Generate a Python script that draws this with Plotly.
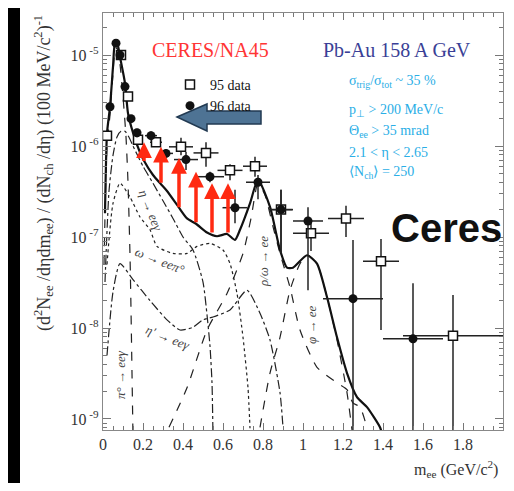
import math
import plotly.graph_objects as go

# ---------------- data ----------------
# CERES 95 data (open squares)
d95_m = [0.02, 0.09, 0.125, 0.175, 0.265, 0.39, 0.515, 0.635, 0.76, 0.89, 1.04, 1.215, 1.39, 1.75]
d95_v = [1.3e-6, 1.0e-5, 3.5e-6, 1.17e-6, 1.1e-6, 9.8e-7, 8.4e-7, 5.4e-7, 6.0e-7, 2.0e-7, 1.1e-7, 1.6e-7, 5.4e-8, 8.2e-9]
d95_ex = [0.01, 0.01, 0.01, 0.015, 0.03, 0.06, 0.0625, 0.0625, 0.06, 0.06, 0.09, 0.09, 0.09, 0.25]
d95_hi = [1.4e-6, 1.1e-5, 3.8e-6, 1.25e-6, 1.2e-6, 1.23e-6, 1.1e-6, 6.3e-7, 7.6e-7, 3.3e-7, 1.5e-7, 2.2e-7, 9.5e-8, 2.3e-8]
d95_lo = [1.2e-6, 9.0e-6, 3.2e-6, 1.08e-6, 1.0e-6, 7.9e-7, 5.9e-7, 4.2e-7, 4.6e-7, 6.6e-8, 7.0e-8, 1.0e-7, 9.5e-9, 1e-10]

# CERES 96 data (filled circles)
d96_m = [0.035, 0.065, 0.085, 0.11, 0.14, 0.17, 0.24, 0.315, 0.415, 0.535, 0.66, 0.775, 0.89, 1.025, 1.25, 1.55]
d96_v = [2.7e-6, 1.35e-5, 1.0e-5, 4.5e-6, 2.0e-6, 1.4e-6, 1.3e-6, 8.3e-7, 7.1e-7, 4.6e-7, 2.1e-7, 4.0e-7, 2.0e-7, 1.5e-7, 2.1e-8, 7.6e-9]
d96_ex = [0.01, 0.01, 0.01, 0.01, 0.015, 0.015, 0.03, 0.035, 0.06, 0.07, 0.0625, 0.06, 0.057, 0.075, 0.15, 0.15]
d96_hi = [2.9e-6, 1.4e-5, 1.05e-5, 4.8e-6, 2.15e-6, 1.55e-6, 1.45e-6, 9.3e-7, 8.6e-7, 5.2e-7, 3.3e-7, 4.8e-7, 3.3e-7, 2.13e-7, 9.3e-8, 3.1e-8]
d96_lo = [2.5e-6, 1.3e-5, 9.5e-6, 4.2e-6, 1.85e-6, 1.25e-6, 1.15e-6, 7.3e-7, 5.45e-7, 4.0e-7, 1.42e-7, 2.6e-7, 6.6e-8, 2.6e-8, 1e-10, 1e-10]

# hadron decay cocktail
total_m = [0.01, 0.02, 0.035, 0.05, 0.06, 0.07, 0.085, 0.11, 0.125, 0.15, 0.185, 0.205, 0.25, 0.29, 0.32, 0.38,
           0.42, 0.465, 0.52, 0.57, 0.62, 0.66, 0.685, 0.735, 0.775, 0.835, 0.885, 0.92, 0.95, 1.02, 1.07, 1.12,
           1.17, 1.22, 1.27, 1.32, 1.385, 1.40]
total_v = [1.82e-7, 1.38e-6, 2.69e-6, 7.41e-6, 1.35e-5, 1.38e-5, 9.5e-6, 4.9e-6, 2.29e-6, 1.4e-6, 8.5e-7, 6.9e-7,
           4.8e-7, 3.8e-7, 3.2e-7, 2.1e-7, 1.6e-7, 1.4e-7, 1.12e-7, 1.02e-7, 1.08e-7, 9.3e-8, 1.2e-7, 2.34e-7,
           4.27e-7, 2.14e-7, 7.2e-8, 4.6e-8, 4.6e-8, 6.3e-8, 5.1e-8, 2.19e-8, 7.9e-9, 3.2e-9, 1.74e-9, 1.35e-9,
           8.1e-10, 6.3e-10]

pi0_m = [0.005, 0.02, 0.035, 0.05, 0.06, 0.07, 0.085, 0.1, 0.115, 0.125, 0.135, 0.14, 0.145, 0.15]
pi0_v = [5e-8, 1.0e-6, 2.2e-6, 6.3e-6, 1.1e-5, 1.2e-5, 7.9e-6, 3.5e-6, 1.26e-6, 4.0e-7, 6.3e-8, 1.6e-8, 3.2e-9, 6.3e-10]

eta_m = [0.01, 0.03, 0.05, 0.07, 0.09, 0.11, 0.13, 0.15, 0.2, 0.25, 0.3, 0.35, 0.4, 0.45, 0.5, 0.52, 0.535, 0.545, 0.55]
eta_v = [3.2e-8, 3.2e-7, 7.9e-7, 1.26e-6, 1.45e-6, 1.45e-6, 1.25e-6, 1.0e-6, 6.0e-7, 3.9e-7, 2.5e-7, 1.6e-7,
         1.0e-7, 7.2e-8, 3.2e-8, 1.4e-8, 6.3e-9, 2.5e-9, 6.3e-10]

omd_m = [0.02, 0.05, 0.085, 0.135, 0.185, 0.235, 0.27, 0.35, 0.42, 0.47, 0.535, 0.6, 0.635, 0.67, 0.7, 0.725, 0.735]
omd_v = [5e-8, 2.34e-7, 3.9e-7, 2.75e-7, 1.66e-7, 1.2e-7, 7.9e-8, 6.6e-8, 6.6e-8, 7.9e-8, 8.5e-8, 7.2e-8, 5.1e-8,
         2.4e-8, 7.9e-9, 2.2e-9, 7.9e-10]

etap_m = [0.02, 0.05, 0.085, 0.15, 0.235, 0.32, 0.385, 0.45, 0.5, 0.55, 0.635, 0.72, 0.785, 0.835, 0.885, 0.9]
etap_v = [5e-9, 2.5e-8, 5.1e-8, 3.4e-8, 2.0e-8, 1.23e-8, 9.5e-9, 1.02e-8, 1.23e-8, 1.32e-8, 1.58e-8, 2.6e-8,
          1.45e-8, 7.4e-9, 1.95e-9, 8.1e-10]

rho_m = [0.33, 0.42, 0.52, 0.62, 0.7, 0.74, 0.775, 0.81, 0.85, 0.885, 0.935, 0.985, 1.07, 1.17, 1.22, 1.25, 1.285, 1.32]
rho_v = [8.1e-10, 2.2e-9, 9.5e-9, 2.4e-8, 6.6e-8, 1.6e-7, 3.9e-7, 2.9e-7, 1.3e-7, 6.6e-8, 2.8e-8, 9.5e-9, 3.7e-9,
         2.5e-9, 2.1e-9, 1.5e-9, 1.35e-9, 8e-10]

phi_m = [0.785, 0.835, 0.885, 0.935, 0.985, 1.02, 1.07, 1.12, 1.17, 1.22, 1.245]
phi_v = [8.1e-10, 3.2e-9, 7.9e-9, 2.6e-8, 5.1e-8, 6.3e-8, 5.1e-8, 2.19e-8, 7.4e-9, 1.95e-9, 7.6e-10]

# red enhancement arrows: mass, tip value, base value
arrow_m = [0.205, 0.29, 0.38, 0.465, 0.545, 0.625]
arrow_tip = [1.1e-6, 9.8e-7, 7.4e-7, 5.2e-7, 3.9e-7, 3.9e-7]
arrow_base = [6.6e-7, 3.8e-7, 2.05e-7, 1.4e-7, 1.08e-7, 1.08e-7]

x_ticks = [0, 0.2, 0.4, 0.6, 0.8, 1, 1.2, 1.4, 1.6, 1.8, 2]
x_ticktext = ["0", "0.2", "0.4", "0.6", "0.8", "1", "1.2", "1.4", "1.6", "1.8", "2"]
y_ticks = [1e-9, 1e-8, 1e-7, 1e-6, 1e-5]
y_ticktext = ["10<sup> -9</sup>", "10<sup> -8</sup>", "10<sup> -7</sup>", "10<sup> -6</sup>", "10<sup> -5</sup>"]

# ---------------- figure ----------------
fig = go.Figure()

LC = "#222222"
def curve(m, v, dash, width=1.2, color=LC):
    fig.add_trace(go.Scatter(x=m, y=v, mode="lines",
                             line=dict(color=color, width=width, dash=dash, shape="spline", smoothing=0.6),
                             showlegend=False, hoverinfo="skip"))

curve(pi0_m, pi0_v, "dash")
curve(eta_m, eta_v, "dashdot")
curve(omd_m, omd_v, "dot")
curve(etap_m, etap_v, "dashdot")
curve(rho_m, rho_v, "dash")
curve(phi_m, phi_v, "dash")
curve(total_m, total_v, "solid", width=2.2, color="#111111")

def err(v, hi, lo):
    return [h - x for h, x in zip(hi, v)], [x - l for x, l in zip(v, lo)]

p95, m95 = err(d95_v, d95_hi, d95_lo)
p96, m96 = err(d96_v, d96_hi, d96_lo)

fig.add_trace(go.Scatter(
    x=d95_m, y=d95_v, mode="markers", name="95 data",
    marker=dict(symbol="square", size=9, color="white", line=dict(color="#111", width=1.5)),
    error_x=dict(type="data", array=d95_ex, color="#222", thickness=1.5, width=0),
    error_y=dict(type="data", array=p95, arrayminus=m95, color="#222", thickness=1.5, width=0),
    legendgroup="a"))
fig.add_trace(go.Scatter(
    x=d96_m, y=d96_v, mode="markers", name="96 data",
    marker=dict(symbol="circle", size=9, color="#111"),
    error_x=dict(type="data", array=d96_ex, color="#222", thickness=1.5, width=0),
    error_y=dict(type="data", array=p96, arrayminus=m96, color="#222", thickness=1.5, width=0),
    legendgroup="b"))

# red arrows
for m, t, b in zip(arrow_m, arrow_tip, arrow_base):
    fig.add_annotation(x=m, y=math.log10(t), ax=m, ay=math.log10(b), xref="x", yref="y", axref="x", ayref="y",
                       showarrow=True, arrowhead=2, arrowsize=0.9, arrowwidth=3.5, arrowcolor="#ff2a12", text="")

# screen pixel -> paper helpers (plot area on screen 103..503 x 13..430)
def px(x):
    return (x - 103) / 400.0
def py(y):
    return (430 - y) / 417.0

# white page on black background
fig.add_shape(type="rect", xref="paper", yref="paper", x0=px(20), x1=px(540), y0=py(520), y1=py(5),
              fillcolor="white", line=dict(width=0), layer="below")

# big blue arrow
pts = [(177, 117), (207, 104), (207, 111), (261, 111), (261, 124), (207, 124), (207, 131)]
path = "M " + " L ".join(f"{px(a):.4f},{py(b):.4f}" for a, b in pts) + " Z"
fig.add_shape(type="path", xref="paper", yref="paper", path=path, fillcolor="#4e7394",
              line=dict(color="#223a52", width=1.5), layer="above")

serif = "Liberation Serif"
def txt(x, y, s, size=15, color="#111", angle=0, family=serif, xanchor="center", italic=False, bold=False):
    if italic:
        s = "<i>" + s + "</i>"
    if bold:
        s = "<b>" + s + "</b>"
    fig.add_annotation(x=px(x), y=py(y), xref="paper", yref="paper", text=s, showarrow=False, textangle=angle,
                       font=dict(size=size, color=color, family=family), xanchor=xanchor, yanchor="middle")

txt(210, 50, "CERES/NA45", size=20, color="#ff3535")
txt(397, 50, "Pb-Au 158 A GeV", size=20, color="#3a3f96")
cy = "#2aaee6"
txt(347, 82, "σ<sub>trig</sub>/σ<sub>tot</sub> ~ 35 %", size=14, color=cy, xanchor="left")
txt(347, 110, "p<sub>⊥</sub> > 200 MeV/c", size=14, color=cy, xanchor="left")
txt(347, 131, "Θ<sub>ee</sub> > 35 mrad", size=14, color=cy, xanchor="left")
txt(347, 152, "2.1 < η < 2.65", size=14, color=cy, xanchor="left")
txt(347, 173, "⟨N<sub>ch</sub>⟩ = 250", size=14, color=cy, xanchor="left")
txt(446, 228, "Ceres", size=40, color="#111", family="Liberation Sans", bold=True)

lab = "#444"
txt(150, 210, "η → eeγ", size=13, color=lab, angle=68, italic=True)
txt(160, 260, "ω → eeπ°", size=13, color=lab, angle=22, italic=True)
txt(168, 337, "η' → eeγ", size=13, color=lab, angle=22, italic=True)
txt(120, 375, "π° → eeγ", size=13, color=lab, angle=-90, italic=True)
txt(263, 262, "ρ/ω → ee", size=13, color=lab, angle=-90, italic=True)
txt(311, 325, "φ → ee", size=13, color=lab, angle=-90, italic=True)

# axis titles
txt(44, 173, "(d<sup>2</sup>N<sub>ee</sub> /dηdm<sub>ee</sub>) / (dN<sub>ch</sub> /dη) (100 MeV/c<sup>2</sup>)<sup>-1</sup>",
    size=18, color="#333", angle=-90)
txt(456, 469, "m<sub>ee</sub> (GeV/c<sup>2</sup>)", size=16, color="#333")

minor_y = [k * 10.0 ** e for e in range(-10, -4) for k in range(2, 10)]

fig.update_layout(
    width=498, height=475,
    margin=dict(l=95, r=3, t=5, b=53),
    paper_bgcolor="black", plot_bgcolor="white",
    font=dict(family=serif, color="#333"),
    legend=dict(x=0.1675, y=0.866, xanchor="left", yanchor="top", bgcolor="rgba(0,0,0,0)",
                font=dict(size=14, family=serif, color="#111"), tracegroupgap=0, traceorder="grouped"),
    showlegend=True,
)
fig.update_xaxes(range=[0, 2], tickvals=x_ticks, ticktext=x_ticktext, ticks="inside", ticklen=7,
                 tickcolor="#777", showgrid=False, zeroline=False, showline=True, linecolor="#888", linewidth=1.2,
                 mirror="allticks", tickfont=dict(size=16, family=serif, color="#333"),
                 minor=dict(dtick=0.05, ticks="inside", ticklen=4, tickcolor="#777"))
fig.update_yaxes(type="log", range=[-9.121, -4.538], tickvals=y_ticks, ticktext=y_ticktext, ticks="inside",
                 ticklen=8, tickcolor="#777", showgrid=False, zeroline=False, showline=True, linecolor="#888",
                 linewidth=1.2, mirror="allticks", tickfont=dict(size=16, family=serif, color="#333"),
                 minor=dict(tickvals=minor_y, ticks="inside", ticklen=4, tickcolor="#777"))

fig.write_html("out.html")
